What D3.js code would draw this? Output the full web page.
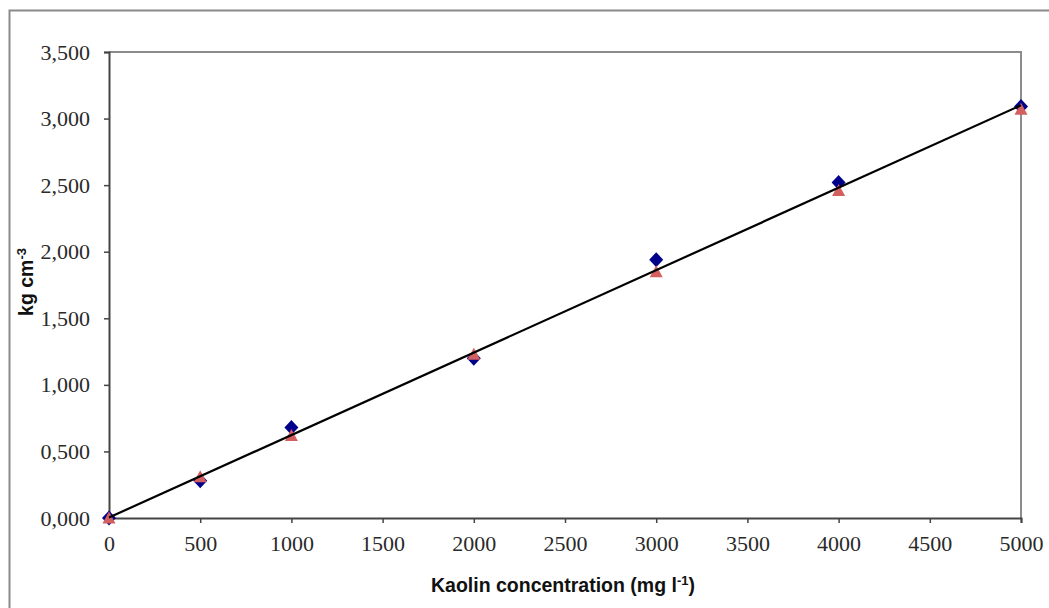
<!DOCTYPE html>
<html>
<head>
<meta charset="utf-8">
<script src="https://cdn.jsdelivr.net/npm/d3@7"></script>
<style>
  body { margin: 0; background: #fff; }
  svg { display: block; }
</style>
</head>
<body>
<svg id="chart" width="1049" height="608"></svg>
<script>
"use strict";

// kaolin concentration (mg l-1)
var concentrations = [0, 500, 1000, 2000, 3000, 4000, 5000];
// series 1 (blue diamonds) and series 2 (red triangles), kg cm-3
var seriesDiamond = [0.00, 0.28, 0.68, 1.20, 1.94, 2.52, 3.09];
var seriesTriangle = [0.00, 0.31, 0.62, 1.23, 1.85, 2.46, 3.07];
var xTicks = [0, 500, 1000, 1500, 2000, 2500, 3000, 3500, 4000, 4500, 5000];
var yTicks = [0, 0.5, 1, 1.5, 2, 2.5, 3, 3.5];

var svg = d3.select("#chart");

var margin = {left: 109, top: 52, right: 1021, bottom: 518};

var x = d3.scaleLinear().domain([0, 5000]).range([margin.left, margin.right]);
var y = d3.scaleLinear().domain([0, 3.5]).range([margin.bottom, margin.top]);

// outer frame of the figure
svg.append("rect")
    .attr("x", 9.5).attr("y", 10.5)
    .attr("width", 1100).attr("height", 700)
    .attr("fill", "none")
    .attr("stroke", "#8a8a8a")
    .attr("stroke-width", 2);

// top and right border of plot area
svg.append("path")
    .attr("d", "M" + x(0) + "," + y(3.5) + "H" + x(5000) + "V" + y(0))
    .attr("fill", "none")
    .attr("stroke", "#8c8c8c")
    .attr("stroke-width", 2);

var commaFmt = function(d) { return d3.format(".3f")(d).replace(".", ","); };

// axes
var xAxis = svg.append("g")
    .attr("transform", "translate(0," + y(0) + ")")
    .call(d3.axisBottom(x).tickValues(xTicks).tickSize(5).tickPadding(12).tickFormat(d3.format("d")));

var yAxis = svg.append("g")
    .attr("transform", "translate(" + x(0) + ",0)")
    .call(d3.axisLeft(y).tickValues(yTicks).tickSize(5).tickPadding(14).tickFormat(commaFmt));

[xAxis, yAxis].forEach(function(g) {
    g.select(".domain").attr("stroke", "#444").attr("stroke-width", 2);
    g.selectAll(".tick line").attr("stroke", "#444").attr("stroke-width", 1.5);
    g.selectAll(".tick text")
        .attr("fill", "#2a2a2a")
        .style("font-family", "'Liberation Serif', 'Times New Roman', serif")
        .style("font-size", "22px");
});

var diamonds = concentrations.map(function(c, i) { return {x: c, y: seriesDiamond[i]}; });
var triangles = concentrations.map(function(c, i) { return {x: c, y: seriesTriangle[i]}; });

svg.append("g").selectAll("path")
    .data(diamonds)
    .enter().append("path")
    .attr("d", "M0,-7.5L7,0L0,7.5L-7,0Z")
    .attr("transform", function(d) { return "translate(" + x(d.x) + "," + y(d.y) + ")"; })
    .attr("fill", "#00008b");

svg.append("g").selectAll("path")
    .data(triangles)
    .enter().append("path")
    .attr("d", "M0,-6.5L6.5,5.5L-6.5,5.5Z")
    .attr("transform", function(d) { return "translate(" + x(d.x) + "," + y(d.y) + ")"; })
    .attr("fill", "#d35f5f");

// linear trend line fitted over both series
var all = diamonds.concat(triangles);
var mx = d3.mean(all, function(d) { return d.x; });
var my = d3.mean(all, function(d) { return d.y; });
var slope = d3.sum(all, function(d) { return (d.x - mx) * (d.y - my); }) /
            d3.sum(all, function(d) { return (d.x - mx) * (d.x - mx); });
var intercept = my - slope * mx;

svg.append("line")
    .attr("x1", x(0)).attr("y1", y(intercept))
    .attr("x2", x(5000)).attr("y2", y(intercept + slope * 5000))
    .attr("stroke", "#000")
    .attr("stroke-width", 2.2);

// axis titles
svg.append("text")
    .attr("x", 563).attr("y", 592)
    .attr("text-anchor", "middle")
    .style("font-family", "'Liberation Sans', Arial, sans-serif")
    .style("font-weight", "bold")
    .style("font-size", "19.5px")
    .attr("fill", "#111")
    .text("Kaolin concentration (mg l")
    .append("tspan").attr("baseline-shift", "super").style("font-size", "13px").text("-1")
    .select(function() { return this.parentNode; })
    .append("tspan").text(")");

svg.append("text")
    .attr("transform", "translate(33,282) rotate(-90)")
    .attr("text-anchor", "middle")
    .style("font-family", "'Liberation Sans', Arial, sans-serif")
    .style("font-weight", "bold")
    .style("font-size", "19.5px")
    .attr("fill", "#111")
    .text("kg cm")
    .append("tspan").attr("baseline-shift", "super").style("font-size", "13px").text("-3");
</script>
</body>
</html>
